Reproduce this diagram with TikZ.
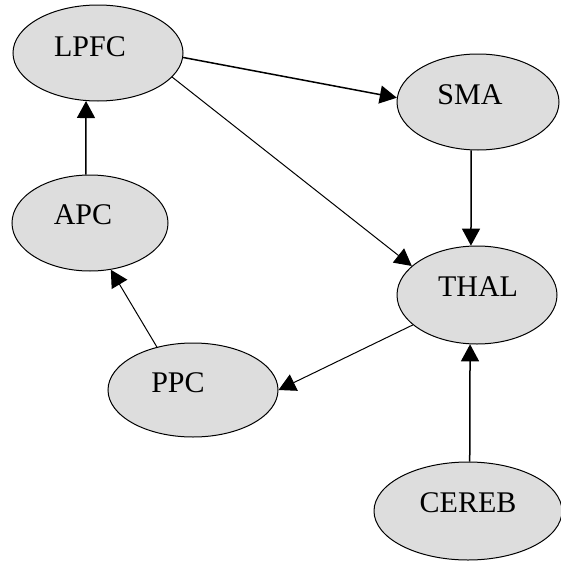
\documentclass[tikz,border=0pt]{standalone}
\usepackage{fontspec}
\setmainfont{Liberation Serif}
\usetikzlibrary{shapes.geometric,arrows.meta}
\definecolor{regionfill}{RGB}{221,221,221}
\begin{document}
\begin{tikzpicture}[x=1pt,y=-1pt,
  region/.style={ellipse, draw=black, line width=1pt, fill=regionfill, inner sep=0pt},
  every label/.style={font=\fontsize{30}{34}\selectfont, inner sep=0pt},
  link/.style={line width=1.5pt, -{Triangle[length=17pt,width=18pt]}},
  thinlink/.style={line width=1pt, -{Triangle[length=17pt,width=18pt]}}]
\useasboundingbox (0,0) rectangle (561,562);

% brain regions
\node[region, minimum width=170pt, minimum height=96pt,
      label={[shift={(-8,-6)}]center:LPFC}] (lpfc) at (98,53) {};
\node[region, minimum width=162pt, minimum height=96pt,
      label={[shift={(-8,-7)}]center:SMA}] (sma) at (478,102) {};
\node[region, minimum width=156pt, minimum height=96pt,
      label={[shift={(-7,-8)}]center:APC}] (apc) at (90,223) {};
\node[region, minimum width=160pt, minimum height=98pt,
      label={[shift={(1,-8)}]center:THAL}] (thal) at (477,295) {};
\node[region, minimum width=170pt, minimum height=94pt,
      label={[shift={(-15,-7)}]center:PPC}] (ppc) at (193,390) {};
\node[region, minimum width=188pt, minimum height=98pt,
      label={[shift={(0,-8)}]center:CEREB}] (cereb) at (468,511) {};

% connections
\draw[link] (lpfc.-3) -- (sma.177);
\draw[thinlink] (lpfc.-18) -- (thal.156);
\draw[link] (sma.-98) -- (thal.97);
\draw[link] (cereb.88) -- (thal.-98);
\draw[link] (apc.95) -- (lpfc.-104);
\draw[thinlink] (ppc.130) -- (apc.-66);
\draw[thinlink] (thal.-155) -- (ppc.0);
\end{tikzpicture}
\end{document}
